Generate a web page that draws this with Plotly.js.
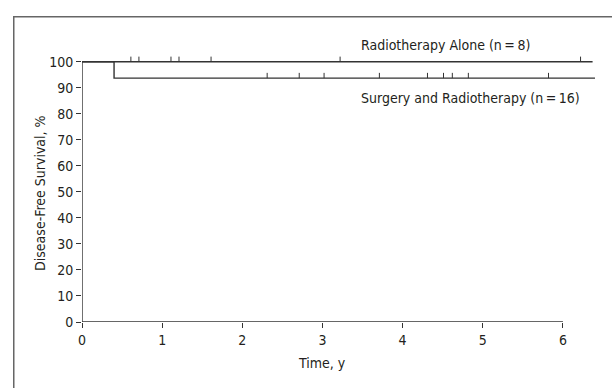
<!DOCTYPE html>
<html>
<head>
<meta charset="utf-8">
<script src="https://cdn.plot.ly/plotly-3.0.1.min.js"></script>
<style>
html,body{margin:0;padding:0;background:#fff;}
#chart{width:612px;height:388px;}
</style>
</head>
<body>
<div id="chart"></div>
<script>
// Kaplan-Meier step data
const rtTimes = [0, 6.37];
const rtSurv = [100, 100];
const rtCensor = [0.61, 0.71, 1.11, 1.21, 1.61, 3.22, 6.22];

const srTimes = [0, 0.40, 0.40, 6.40];
const srSurv = [100, 100, 93.75, 93.75];
const srCensor = [2.31, 2.71, 3.02, 3.71, 4.31, 4.51, 4.62, 4.82, 5.82];

const xTicks = [0, 1, 2, 3, 4, 5, 6];
const yTicks = [0, 10, 20, 30, 40, 50, 60, 70, 80, 90, 100];

const labelRT = "Radiotherapy Alone (n\u2009=\u20098)";
const labelSR = "Surgery and Radiotherapy (n\u2009=\u200916)";
const xTitle = "Time, y";
const yTitle = "Disease-Free Survival, %";

const tickH = 2.0;
const lineColor = '#333';
const txt = '#231f20';
const font = "'Liberation Sans Narrow', 'DejaVu Sans Condensed', 'Arial Narrow', sans-serif";
const fs = 14;

function censorTrace(times, level) {
  const x = [], y = [];
  times.forEach(t => { x.push(t, t, null); y.push(level, level + tickH, null); });
  return {x, y, mode: 'lines', line: {color: lineColor, width: 1}, hoverinfo: 'skip', showlegend: false};
}

const traces = [
  {x: rtTimes, y: rtSurv, mode: 'lines', line: {color: lineColor, width: 1.4}, showlegend: false},
  {x: srTimes, y: srSurv, mode: 'lines', line: {color: lineColor, width: 1.4}, showlegend: false},
  censorTrace(rtCensor, rtSurv[0]),
  censorTrace(srCensor, srSurv[2])
];

const layout = {
  width: 612, height: 388,
  margin: {l: 82, r: 13, t: 41, b: 66},
  paper_bgcolor: '#fff', plot_bgcolor: '#fff',
  font: {family: font, size: fs, color: txt},
  xaxis: {
    range: [0, 6.45], tickvals: xTicks, ticktext: xTicks.map(String),
    ticks: 'outside', ticklen: 5, tickcolor: lineColor, tickwidth: 1,
    showline: false, showgrid: false, zeroline: false,
    tickfont: {family: font, size: fs, color: txt}
  },
  yaxis: {
    range: [0, 108], tickvals: yTicks, ticktext: yTicks.map(String),
    ticks: 'outside', ticklen: 5, tickcolor: lineColor, tickwidth: 1,
    showline: false, showgrid: false, zeroline: false,
    tickfont: {family: font, size: fs, color: txt}
  },
  shapes: [
    {type: 'line', xref: 'x', yref: 'y', x0: 0, x1: 6, y0: 0, y1: 0, line: {color: lineColor, width: 1.4}},
    {type: 'line', xref: 'x', yref: 'y', x0: 0, x1: 0, y0: 0, y1: 100, line: {color: lineColor, width: 1.4}},
    {type: 'rect', xref: 'paper', yref: 'paper', x0: -0.132, x1: 1.2, y0: -0.6, y1: 1.086, line: {color: '#666', width: 1.5}, fillcolor: 'rgba(0,0,0,0)', layer: 'below'}
  ],
  annotations: [
    {xref: 'x', yref: 'y', x: 4.53, y: 100, yshift: 17, text: labelRT, showarrow: false, font: {family: font, size: fs, color: txt}},
    {xref: 'x', yref: 'y', x: 4.85, y: 93.75, yshift: -20, text: labelSR, showarrow: false, font: {family: font, size: fs, color: txt}},
    {xref: 'x', yref: 'y', x: 3, y: 0, yshift: -41, text: xTitle, showarrow: false, font: {family: font, size: fs, color: txt}},
    {xref: 'x', yref: 'y', x: 0, y: 50, xshift: -42, yshift: -2, textangle: -90, text: yTitle, showarrow: false, font: {family: font, size: fs, color: txt}}
  ]
};

Plotly.newPlot('chart', traces, layout, {displayModeBar: false, staticPlot: true});
</script>
</body>
</html>
